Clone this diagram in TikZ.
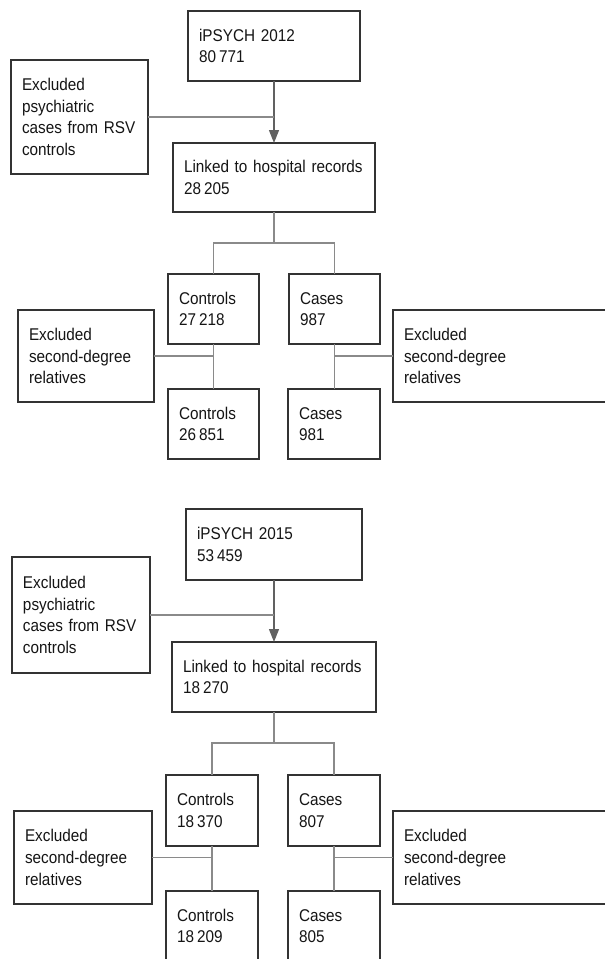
\documentclass[tikz,border=0pt]{standalone}
\usepackage{fontspec}
\setmainfont{Liberation Sans}[FakeStretch=0.9]
\usetikzlibrary{arrows.meta}
\definecolor{boxline}{HTML}{333333}
\definecolor{conn}{HTML}{8A8A8A}
\definecolor{txt}{HTML}{151515}
\tikzset{
  stagebox/.style={draw=boxline, line width=1.5pt, rectangle, align=left,
    inner xsep=11pt, inner ysep=0pt, outer sep=0pt, text=txt, anchor=north west,
    font=\fontsize{17}{21.7}\selectfont},
  link/.style={draw=conn, line width=1.3pt},
  arr/.style={draw=conn!70!black, line width=1.3pt, -{Triangle[length=13pt,width=10pt]}}
}
\newcommand{\nsp}{\hspace{3pt}}
\begin{document}
\begin{tikzpicture}[x=1pt,y=-1pt]
\useasboundingbox (0,0) rectangle (605,959);
\clip (0,0) rectangle (605,959);
\fill[white] (0,0) rectangle (605,959);
% ---------- top ----------
\node[stagebox, minimum width=172pt, minimum height=70pt, text width=150pt] (A1) at (188,11) {iPSYCH 2012\\80\nsp771};
\node[stagebox, minimum width=137pt, minimum height=114pt, text width=115pt] (E1) at (11,60) {Excluded\\psychiatric\\cases from RSV\\controls};
\node[stagebox, minimum width=202pt, minimum height=69pt, text width=180pt] (L1) at (173,143) {Linked to hospital records\\28\nsp205};
\node[stagebox, minimum width=91pt, minimum height=70pt, text width=69pt] (C1) at (168,274) {Controls\\27\nsp218};
\node[stagebox, minimum width=91pt, minimum height=70pt, text width=69pt] (K1) at (289,274) {Cases\\987};
\node[stagebox, minimum width=136pt, minimum height=92pt, text width=114pt] (X1) at (18,310) {Excluded\\second-degree\\relatives};
\node[stagebox, minimum width=91pt, minimum height=70pt, text width=69pt] (C1b) at (168,389) {Controls\\26\nsp851};
\node[stagebox, minimum width=92pt, minimum height=70pt, text width=70pt] (K1b) at (288,389) {Cases\\981};
\node[stagebox, minimum width=220pt, minimum height=92pt, text width=198pt] (Y1) at (393,310) {Excluded\\second-degree\\relatives};
\draw[arr] (A1.south) -- (L1.north);
\draw[link] (E1.east) -- (E1.east -| A1.south);
\draw[link] (L1.south) -- ++(0,31) coordinate (B1);
\draw[link] (C1.north) |- (B1) -| (K1.north);
\draw[link] (C1.south) -- (C1b.north);
\draw[link] (K1.south) -- (K1b.north -| K1.south);
\draw[link] (X1.east) -- (X1.east -| C1.south);
\draw[link] (Y1.west) -- (Y1.west -| K1.south);
% ---------- bottom ----------
\node[stagebox, minimum width=176pt, minimum height=71pt, text width=154pt] (A2) at (186,509) {iPSYCH 2015\\53\nsp459};
\node[stagebox, minimum width=138pt, minimum height=116pt, text width=116pt] (E2) at (12,557) {Excluded\\psychiatric\\cases from RSV\\controls};
\node[stagebox, minimum width=204pt, minimum height=70pt, text width=182pt] (L2) at (172,642) {Linked to hospital records\\18\nsp270};
\node[stagebox, minimum width=92pt, minimum height=71pt, text width=70pt] (C2) at (166,775) {Controls\\18\nsp370};
\node[stagebox, minimum width=92pt, minimum height=71pt, text width=70pt] (K2) at (288,775) {Cases\\807};
\node[stagebox, minimum width=138pt, minimum height=93pt, text width=116pt] (X2) at (14,811) {Excluded\\second-degree\\relatives};
\node[stagebox, minimum width=92pt, minimum height=70pt, text width=70pt] (C2b) at (166,891) {Controls\\18\nsp209};
\node[stagebox, minimum width=92pt, minimum height=70pt, text width=70pt] (K2b) at (288,891) {Cases\\805};
\node[stagebox, minimum width=220pt, minimum height=93pt, text width=198pt] (Y2) at (393,811) {Excluded\\second-degree\\relatives};
\draw[arr] (A2.south) -- (L2.north);
\draw[link] (E2.east) -- (E2.east -| A2.south);
\draw[link] (L2.south) -- ++(0,31) coordinate (B2);
\draw[link] (C2.north) |- (B2) -| (K2.north);
\draw[link] (C2.south) -- (C2b.north);
\draw[link] (K2.south) -- (K2b.north);
\draw[link] (X2.east) -- (X2.east -| C2.south);
\draw[link] (Y2.west) -- (Y2.west -| K2.south);
\end{tikzpicture}
\end{document}
